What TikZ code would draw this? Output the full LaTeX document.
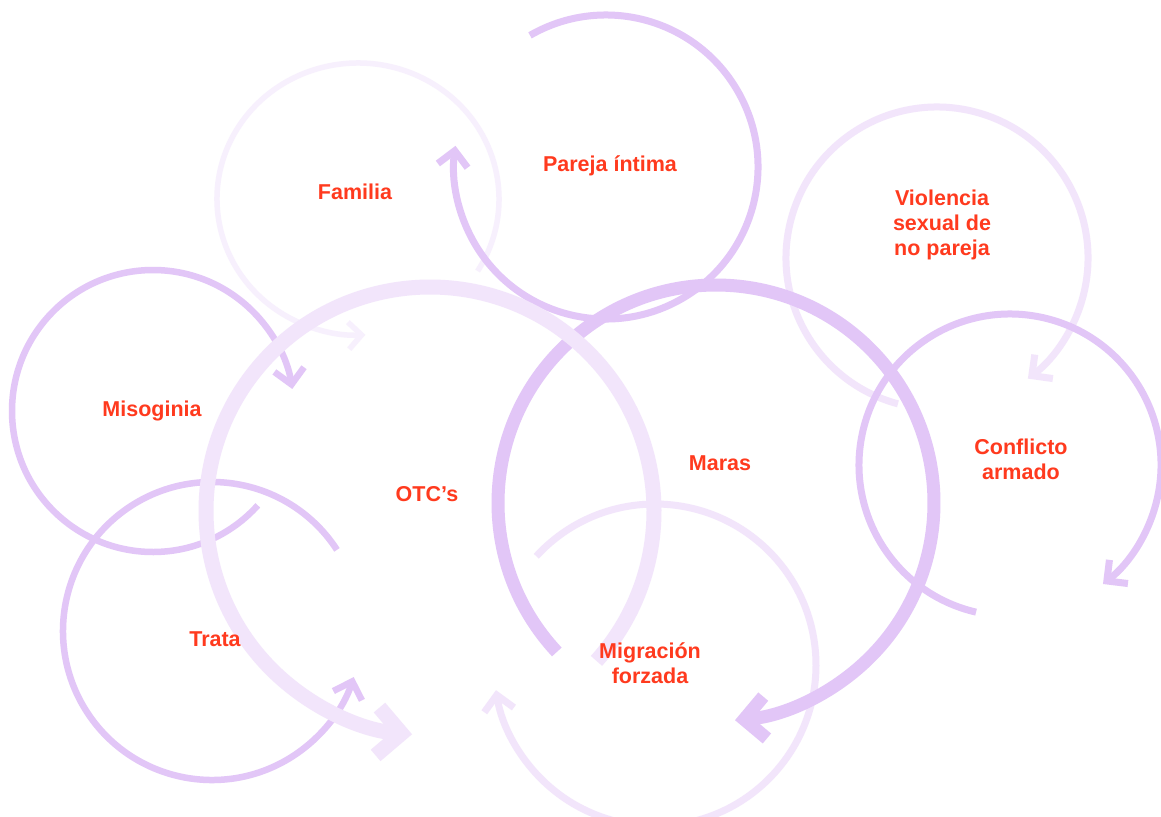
\documentclass[tikz,border=0pt]{standalone}
\usepackage{fontspec}
\setmainfont{Liberation Sans}
\usetikzlibrary{arrows.meta}
\definecolor{midpurple}{RGB}{226,198,247}
\definecolor{lightpurple}{RGB}{242,229,251}
\definecolor{palepurple}{RGB}{247,240,253}
\definecolor{labelred}{RGB}{255,58,30}
\begin{document}
\begin{tikzpicture}[x=1pt,y=-1pt,
  lab/.style={text=labelred,font=\fontsize{21.5}{25}\selectfont\bfseries,align=center,inner sep=0pt},
  palearc/.style={draw=palepurple,line width=5.5pt,-{Straight Barb[length=13pt,width=27pt,sharp]}},
  midarc/.style={draw=midpurple,line width=6.5pt,-{Straight Barb[length=15pt,width=30pt,sharp]}},
  lightarc/.style={draw=lightpurple,line width=7pt,-{Straight Barb[length=15pt,width=30pt,sharp]}},
  bigmid/.style={draw=midpurple,line width=13pt,-{Straight Barb[length=21pt,width=42pt,sharp]}},
  biglight/.style={draw=lightpurple,line width=15pt,-{Straight Barb[length=24pt,width=48pt,sharp]}}]
\useasboundingbox (0,0) rectangle (1161,816);
\clip (0,0) rectangle (1161,816);
\fill[white] (0,0) rectangle (1161,816);

% centres of the cycles
\coordinate (cFam) at (358,199);
\coordinate (cPar) at (606,167);
\coordinate (cMis) at (153,411);
\coordinate (cTra) at (212,631);
\coordinate (cOTC) at (430,511);
\coordinate (cMar) at (716,503);
\coordinate (cVio) at (937,258);
\coordinate (cCon) at (1010,465);
\coordinate (cMig) at (655,665);

% arcs (back to front)
\draw[palearc] (cFam) ++(32:141 and 136) arc[start angle=32,end angle=-273,x radius=141,y radius=136];
\draw[lightarc] (cVio) ++(105:151) arc[start angle=105,end angle=413,radius=151];
\draw[lightarc] (cMig) ++(222.5:161) arc[start angle=222.5,end angle=531,radius=161];
\draw[midarc,line width=7pt] (cPar) ++(-120:152) arc[start angle=-120,end angle=188,radius=152];
\draw[midarc] (cMis) ++(42:141) arc[start angle=42,end angle=351,radius=141];
\draw[midarc] (cTra) ++(-33:149) arc[start angle=-33,end angle=-342,radius=149];
\draw[midarc,line width=7pt] (cCon) ++(103:151) arc[start angle=103,end angle=412,radius=151];
\draw[bigmid] (cMar) ++(136.9:218) arc[start angle=136.9,end angle=445,radius=218];
\draw[biglight] (cOTC) ++(42:224) arc[start angle=42,end angle=-265.4,radius=224];

% labels
\node[lab] (familia) at (355,192) {Familia};
\node[lab] (pareja) at (610,166) {Pareja íntima};
\node[lab] (violencia) at (942,225) {Violencia\\sexual de\\no pareja};
\node[lab] (misoginia) at (152,411) {Misoginia};
\node[lab] (otc) at (427,494) {OTC’s};
\node[lab] (maras) at (720,463) {Maras};
\node[lab] (conflicto) at (1021,459) {Conflicto\\armado};
\node[lab] (trata) at (215,639) {Trata};
\node[lab] (migracion) at (650,663) {Migración\\forzada};
\end{tikzpicture}
\end{document}
